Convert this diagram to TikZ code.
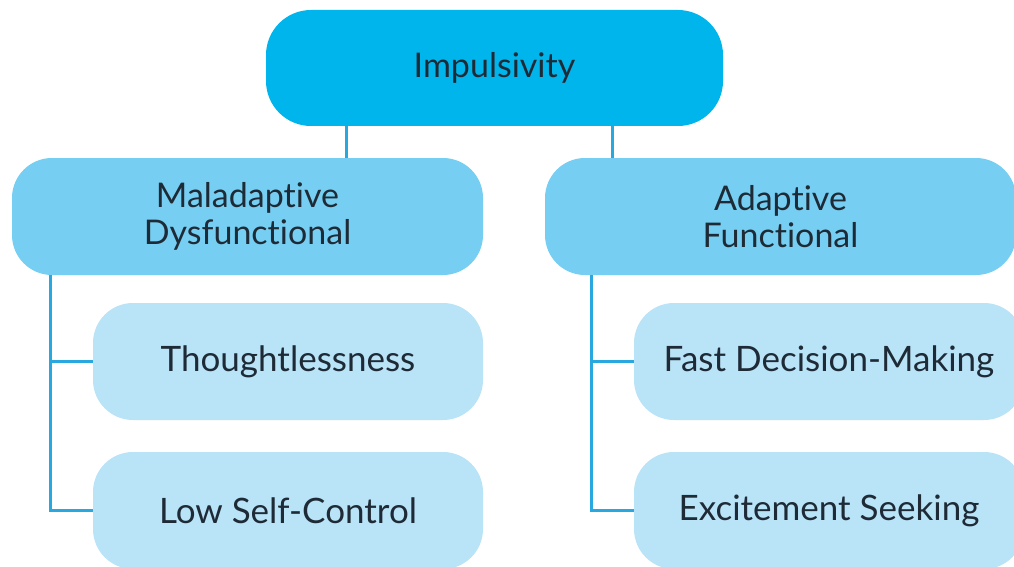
\documentclass[tikz,border=0pt]{standalone}
\usepackage{fontspec}
\setmainfont{Lato}[Ligatures=NoCommon]
\usetikzlibrary{positioning}
\definecolor{topblue}{HTML}{00B5EC}
\definecolor{midblue}{HTML}{76CFF2}
\definecolor{leafblue}{HTML}{B9E3F7}
\definecolor{linkblue}{HTML}{29A8E0}
\definecolor{inkgray}{HTML}{1E2B36}
\tikzset{box/.style = {rounded corners=40pt, text=inkgray, align=center, inner sep=0pt},
         rootbox/.style = {box, fill=topblue, minimum width=457pt, minimum height=116pt,
                           rounded corners=45pt, font=\fontsize{34}{38}\selectfont},
         groupbox/.style = {box, fill=midblue, minimum width=471pt, minimum height=117pt,
                            font=\fontsize{34}{37}\selectfont},
         leafbox/.style = {box, fill=leafblue, minimum width=390pt, minimum height=117pt,
                           font=\fontsize{35}{40}\selectfont},
         link/.style = {draw=linkblue, line width=3pt}}

\begin{document}
\begin{tikzpicture}[x=1pt, y=-1pt]
    \useasboundingbox (0, 0) rectangle (1014, 567);
    \clip (0, 0) rectangle (1014, 567);
    \node [rootbox] (impulse) at (494.5, 68) {Impulsivity};
    \node [groupbox] (maladapt) at (247.5, 216.5) {Maladaptive\\Dysfunctional};
    \node [groupbox] (adapt) at (780.5, 216.5) {Adaptive\\Functional};
    \node [leafbox] (thought) at (288, 361.5) {Thoughtlessness};
    \node [leafbox] (selfctl) at (288, 510.5) {Low Self-Control};
    \node [leafbox] (fastdec) at (829, 361.5) {Fast Decision-Making};
    \node [leafbox] (excite) at (829, 510.5) {Excitement Seeking};
    \draw [link] ([xshift=-148.5pt]impulse.south) -- ([xshift=-148.5pt]impulse.south |- maladapt.north);
    \draw [link] ([xshift=117.5pt]impulse.south) -- ([xshift=117.5pt]impulse.south |- adapt.north);
    \draw [link] ([xshift=39pt]maladapt.south west) |- (thought.west);
    \draw [link] ([xshift=39pt]maladapt.south west) |- (selfctl.west);
    \draw [link] ([xshift=47pt]adapt.south west) |- (fastdec.west);
    \draw [link] ([xshift=47pt]adapt.south west) |- (excite.west);
\end{tikzpicture}
\end{document}
